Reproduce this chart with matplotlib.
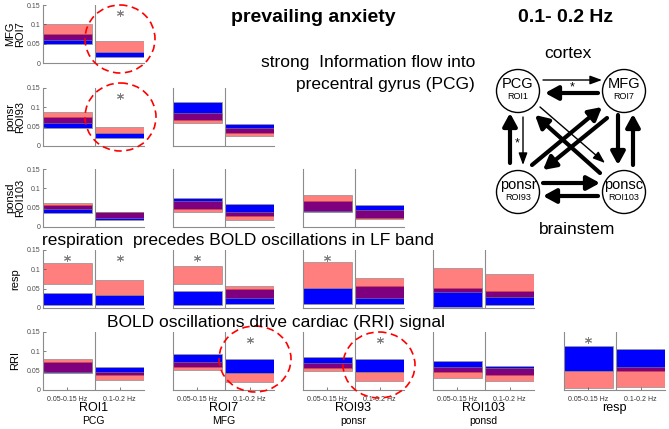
import matplotlib
matplotlib.use("Agg")
import matplotlib.pyplot as plt
from matplotlib.patches import Rectangle, Ellipse, Circle

plt.rcParams['font.family'] = ['Liberation Sans', 'DejaVu Sans']

bands = ["0.05-0.15 Hz", "0.1-0.2 Hz"]
col_names = ["ROI1", "ROI7", "ROI93", "ROI103", "resp"]
col_regions = ["PCG", "MFG", "ponsr", "ponsd", ""]
row_names = ["MFG\nROI7", "ponsr\nROI93", "ponsd\nROI103", "resp", "RRI"]

# (low, high) of each interval, one entry per source column, [LF band, HF band]
blue_mfg = [[(0.048, 0.075), (0.015, 0.028)]]
red_mfg = [[(0.060, 0.100), (0.028, 0.058)]]

blue_ponsr = [[(0.047, 0.076), (0.020, 0.033)],
              [(0.067, 0.114), (0.034, 0.056)]]
red_ponsr = [[(0.060, 0.088), (0.033, 0.050)],
             [(0.060, 0.086), (0.026, 0.046)]]

blue_ponsd = [[(0.035, 0.057), (0.018, 0.038)],
              [(0.046, 0.075), (0.029, 0.060)],
              [(0.039, 0.068), (0.024, 0.058)]]
red_ponsd = [[(0.047, 0.063), (0.024, 0.040)],
             [(0.039, 0.067), (0.018, 0.038)],
             [(0.042, 0.082), (0.020, 0.044)]]

blue_resp = [[(0.008, 0.040), (0.008, 0.034)],
             [(0.007, 0.045), (0.010, 0.048)],
             [(0.010, 0.053), (0.011, 0.058)],
             [(0.003, 0.053), (0.007, 0.045)]]
red_resp = [[(0.061, 0.117), (0.034, 0.072)],
            [(0.062, 0.108), (0.027, 0.057)],
            [(0.053, 0.118), (0.027, 0.077)],
            [(0.042, 0.104), (0.029, 0.089)]]

blue_rri = [[(0.044, 0.072), (0.039, 0.059)],
            [(0.059, 0.092), (0.044, 0.081)],
            [(0.057, 0.085), (0.046, 0.081)],
            [(0.047, 0.076), (0.039, 0.063)],
            [(0.050, 0.113), (0.048, 0.107)]]
red_rri = [[(0.047, 0.081), (0.026, 0.046)],
           [(0.052, 0.072), (0.021, 0.044)],
           [(0.050, 0.069), (0.024, 0.046)],
           [(0.032, 0.059), (0.024, 0.056)],
           [(0.006, 0.050), (0.009, 0.059)]]

blue_all = [blue_mfg, blue_ponsr, blue_ponsd, blue_resp, blue_rri]
red_all = [red_mfg, red_ponsr, red_ponsd, red_resp, red_rri]

# significant (row, col, band)
stars = [(0, 0, 1), (1, 0, 1), (3, 0, 0), (3, 0, 1), (3, 1, 0), (3, 2, 0),
         (4, 1, 1), (4, 2, 1), (4, 4, 0)]

W, H = 669, 429
col_left = [43, 173, 303, 433, 564]
row_top = [5, 88, 169, 250, 332]
pw, ph = 101, 58
bar_x = [(0.0, 0.97), (1.03, 2.0)]
divider = 1.03
gray = '0.55'

fig = plt.figure(figsize=(W / 100, H / 100), dpi=100)

for r in range(5):
    for c in range(len(blue_all[r])):
        ax = fig.add_axes([col_left[c] / W, 1 - (row_top[r] + ph) / H, pw / W, ph / H])
        ax.set_xlim(0, 2)
        ax.set_ylim(0, 0.15)
        for b in range(2):
            x0, x1 = bar_x[b]
            lo, hi = blue_all[r][c][b]
            ax.add_patch(Rectangle((x0, lo), x1 - x0, hi - lo, facecolor='blue',
                                   edgecolor='0.6', lw=0.6))
            lo, hi = red_all[r][c][b]
            ax.add_patch(Rectangle((x0, lo), x1 - x0, hi - lo, facecolor=(1, 0, 0, 0.5),
                                   edgecolor=(0.5, 0.5, 0.5, 0.7), lw=0.6))
        ax.axvline(divider, color=gray, lw=0.8)
        for s in stars:
            if s[0] == r and s[1] == c:
                ax.plot(sum(bar_x[s[2]]) / 2, 0.13, marker=(6, 2, 0), ms=5, mew=0.7,
                        color='0.5')
        for sp in ['top', 'right']:
            ax.spines[sp].set_visible(False)
        for sp in ['left', 'bottom']:
            ax.spines[sp].set_color(gray)
            ax.spines[sp].set_linewidth(0.8)
        ax.tick_params(direction='in', length=2, width=0.5, colors='0.3',
                       labelsize=5, pad=2)
        if c == 0:
            ax.set_yticks([0, 0.05, 0.1, 0.15])
            ax.set_yticklabels(["0", "0.05", "0.1", "0.15"])
        else:
            ax.set_yticks([])
        if r == 4:
            ax.set_xticks([sum(bx) / 2 for bx in bar_x])
            ax.set_xticklabels(bands, color='0.2')
            ax.tick_params(axis='x', pad=4)
        else:
            ax.set_xticks([])

# overlay in pixel coordinates for titles, annotations and the diagram
ov = fig.add_axes([0, 0, 1, 1], zorder=10)
ov.set_xlim(0, W)
ov.set_ylim(H, 0)
ov.axis('off')
ov.patch.set_visible(False)

for r in range(5):
    cy = row_top[r] + ph / 2
    ov.text(15, cy, row_names[r], rotation=90, ha='center', va='center',
            fontsize=8, linespacing=1.05)

for c in range(5):
    cx = col_left[c] + pw / 2
    ov.text(cx, 408, col_names[c], ha='center', va='center', fontsize=9)
    if col_regions[c]:
        ov.text(cx, 421, col_regions[c], ha='center', va='center', fontsize=7.5)

ov.text(313, 18, "prevailing anxiety", ha='center', va='center', fontsize=14,
        fontweight='bold')
ov.text(566, 18, "0.1- 0.2 Hz", ha='center', va='center', fontsize=14,
        fontweight='bold')
ov.text(368, 63, "strong  Information flow into", ha='center', va='center', fontsize=12.5)
ov.text(385, 84, "precentral gyrus (PCG)", ha='center', va='center', fontsize=12.5)
ov.text(238, 241, "respiration  precedes BOLD oscillations in LF band", ha='center',
        va='center', fontsize=12.5)
ov.text(276, 322, "BOLD oscillations drive cardiac (RRI) signal", ha='center',
        va='center', fontsize=12.5)

# red dashed circles around highlighted bars
for (ex, ey, ew, eh) in [(120, 39, 70, 68), (120.5, 117, 71, 68),
                         (255, 359, 72, 66), (379, 365, 72, 66)]:
    ov.add_patch(Ellipse((ex, ey), ew, eh, fill=False, edgecolor='red', lw=1.2,
                         linestyle=(0, (4.5, 2.7))))

# network diagram
ov.text(568, 53, "cortex", ha='center', va='center', fontsize=12.5)
ov.text(577, 230, "brainstem", ha='center', va='center', fontsize=12.5)
nodes = [("PCG", "ROI1", 518, 91), ("MFG", "ROI7", 624, 91),
         ("ponsr", "ROI93", 518, 192), ("ponsc", "ROI103", 624, 192)]
for name, roi, cx, cy in nodes:
    ov.add_patch(Circle((cx, cy), 21.5, fill=False, edgecolor='black', lw=1.0))
    ov.text(cx, cy - 7, name, ha='center', va='center', fontsize=10.5)
    ov.text(cx, cy + 5.5, roi, ha='center', va='center', fontsize=6.5)

links = [((543, 80), (602, 80), False),
         ((598, 93), (545, 93), True),
         ((510, 163), (510, 113), True),
         ((523, 117), (523, 165), False),
         ((618, 115), (618, 165), True),
         ((633, 165), (633, 114), True),
         ((543, 183), (600, 183), True),
         ((598, 196), (543, 196), True),
         ((540, 107), (605, 163), False),
         ((600, 173), (535, 115), True),
         ((532, 165), (602, 107), True),
         ((607, 118), (543, 170), True)]
for start, end, thick in links:
    if thick:
        props = dict(arrowstyle='-|>,head_length=0.55,head_width=0.3', lw=3.0,
                     color='black', mutation_scale=14, shrinkA=0, shrinkB=0)
    else:
        props = dict(arrowstyle='-|>,head_length=0.6,head_width=0.22', lw=1.0,
                     color='black', mutation_scale=12, shrinkA=0, shrinkB=0)
    ov.annotate("", xy=end, xytext=start, arrowprops=props)
ov.text(572, 87, "*", ha='center', va='center', fontsize=9)
ov.text(517, 143, "*", ha='center', va='center', fontsize=9)

fig.savefig("out.png", dpi=100)
